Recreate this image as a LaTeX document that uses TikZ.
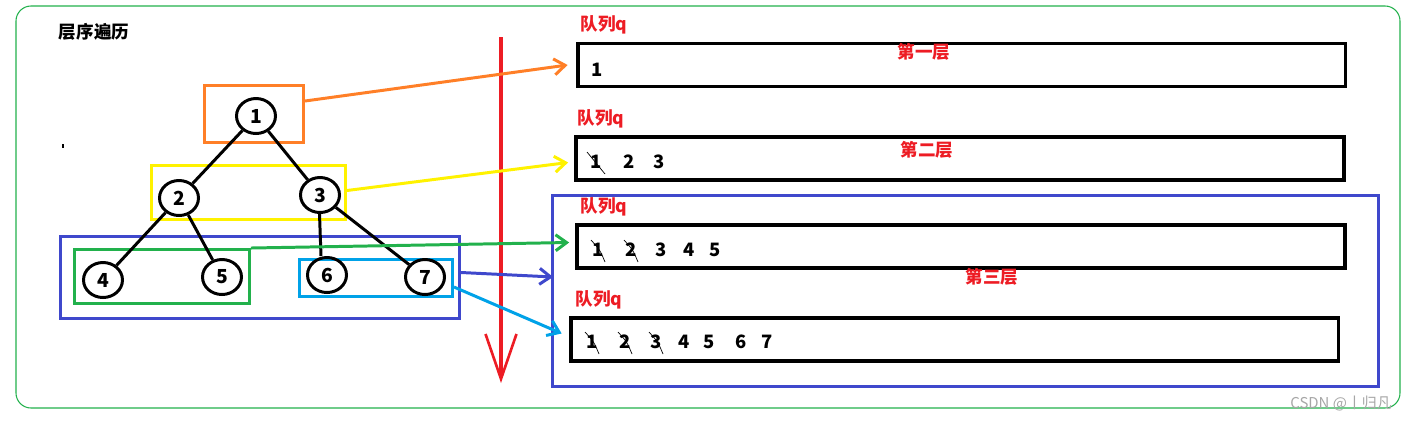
\documentclass[tikz,border=0pt]{standalone}
\usepackage{fontspec}
\setmainfont{Noto Sans CJK SC}
\usepackage{xcolor}
\usepackage{tikz}
\usetikzlibrary{arrows.meta}
\usetikzlibrary{shapes.geometric}

\definecolor{pOrange}{HTML}{FF7F27}
\definecolor{pYellow}{HTML}{FFF200}
\definecolor{pGreen}{HTML}{22B14C}
\definecolor{pBlue}{HTML}{3F48CC}
\definecolor{pCyan}{HTML}{00A2E8}
\definecolor{pRed}{HTML}{ED1C24}

\tikzset{
  tnode/.style={draw, ellipse, line width=1.7pt, minimum width=0.78cm, minimum height=0.7cm, inner sep=0pt, font=\bfseries\fontsize{11}{12}\selectfont},
  lbox/.style={draw, rectangle, line width=1.7pt, inner sep=0pt},
  qbox/.style={draw, rectangle, line width=2.2pt, inner sep=0pt, minimum width=15.36cm, minimum height=0.86cm},
  qlabel/.style={text=pRed, font=\bfseries\fontsize{10}{11}\selectfont},
  qnum/.style={inner sep=0pt, font=\bfseries\fontsize{10.5}{11}\selectfont},
  link/.style={line width=1.7pt, -{Straight Barb[length=0.22cm, width=0.32cm]}},
  strike/.style={line width=0.4pt},
}

\begin{document}
\begin{tikzpicture}[x=0.02cm, y=-0.02cm]
\useasboundingbox (0,0) rectangle (1410,420);
\begin{scope}
    % frame
    \draw[pGreen, line width=0.6pt, rounded corners=0.3cm] (16,6) rectangle (1400,408);
    \node[font=\bfseries\fontsize{10}{11}\selectfont] (title) at (94,32) {层序遍历};
    \fill (62,144) rectangle (64,148);

    % tree
    \node[lbox, pBlue, minimum width=7.98cm, minimum height=1.64cm] (bb) at (260,277.5) {};
    \node[lbox, pOrange, minimum width=1.98cm, minimum height=1.14cm] (ob) at (254,114) {};
    \node[lbox, pYellow, minimum width=3.88cm, minimum height=1.08cm] (yb) at (248.5,192.5) {};
    \node[lbox, pGreen, minimum width=3.5cm, minimum height=1.08cm] (gb) at (162,276.5) {};
    \node[lbox, pCyan, minimum width=3.06cm, minimum height=0.74cm] (cb) at (376,278) {};

    \node[tnode] (n1) at (256,116) {1};
    \node[tnode] (n2) at (179,198) {2};
    \node[tnode] (n3) at (320,195) {3};
    \node[tnode] (n4) at (103,280) {4};
    \node[tnode] (n5) at (222,277) {5};
    \node[tnode] (n6) at (327,275) {6};
    \node[tnode] (n7) at (425,277) {7};
    \draw[line width=1.7pt] (n1) -- (n2);
    \draw[line width=1.7pt] (n1) -- (n3);
    \draw[line width=1.7pt] (n2) -- (n4);
    \draw[line width=1.7pt] (n2) -- (n5);
    \draw[line width=1.7pt] ([xshift=-0.01cm]n3.south) -- ([xshift=0.02cm]n3.south |- n6.north);
    \draw[line width=1.7pt] (n3) -- (n7);

    % levels
    \coordinate (top) at (501,37);
    \coordinate (bot) at (501,383);
    \draw[pRed, line width=2.4pt, -{Straight Barb[length=0.9cm, width=0.62cm, line width=1.5pt]}] (top) -- (bot);

    % queues
    \node[lbox, pBlue, minimum width=16.52cm, minimum height=3.82cm] (qb) at (965.5,291) {};
    \node[qbox] (q1) at (961.5,65) {};
    \node[qbox] (q2) at (960,158.5) {};
    \node[qbox] (q3) at (961,246.5) {};
    \node[qbox] (q4) at (954.5,339.5) {};
    \node[qlabel] (l1) at (604,25) {队列q};
    \node[qlabel] (l2) at (601,119) {队列q};
    \node[qlabel] (l3) at (604,207) {队列q};
    \node[qlabel] (l4) at (599,300) {队列q};
    \node[qlabel] (s1) at (924,52) {第一层};
    \node[qlabel] (s2) at (927,150) {第二层};
    \node[qlabel] (s3) at (992,277) {第三层};

    \node[qnum] (q1d1) at (597,70) {1};
    \foreach \n/\x in {1/596, 2/629, 3/659}
        \node[qnum] (q2d\n) at (\x,162) {\n};
    \foreach \n/\x in {1/598, 2/631, 3/661, 4/689, 5/715}
        \node[qnum] (q3d\n) at (\x,250) {\n};
    \foreach \n/\x in {1/592, 2/625, 3/656, 4/684, 5/709, 6/741, 7/767}
        \node[qnum] (q4d\n) at (\x,342) {\n};
    \draw[strike] ([shift={(-9,-10)}]q2d1.center) -- ([shift={(9,12)}]q2d1.center);
    \foreach \d in {q3d1, q3d2, q4d1, q4d2, q4d3}
        \draw[strike] ([shift={(-7,-10)}]\d.center) .. controls ([shift={(2,0)}]\d.center) .. ([shift={(7,12)}]\d.center);

    % links
    \draw[link, pOrange] ([shift={(0,-13)}]ob.east) -- ([shift={(-8,0)}]q1.west);
    \draw[link, pYellow] ([shift={(0,-2)}]yb.east) -- ([shift={(-6,4)}]q2.west);
    \draw[link, pGreen] (gb.north east) -- ([shift={(-6,-4)}]q3.west);
    \draw[link, pBlue] ([shift={(0,-5)}]bb.east) -- ([shift={(2,-14)}]qb.west);
    \draw[link, pCyan] ([shift={(0,9)}]cb.east) -- ([shift={(-7,-6)}]q4.west);

    \node[anchor=east, text=black!35, font=\fontsize{8.5}{10}\selectfont] (mark) at (1398,404) {CSDN @丨归凡};
\end{scope}
\end{tikzpicture}
\end{document}
